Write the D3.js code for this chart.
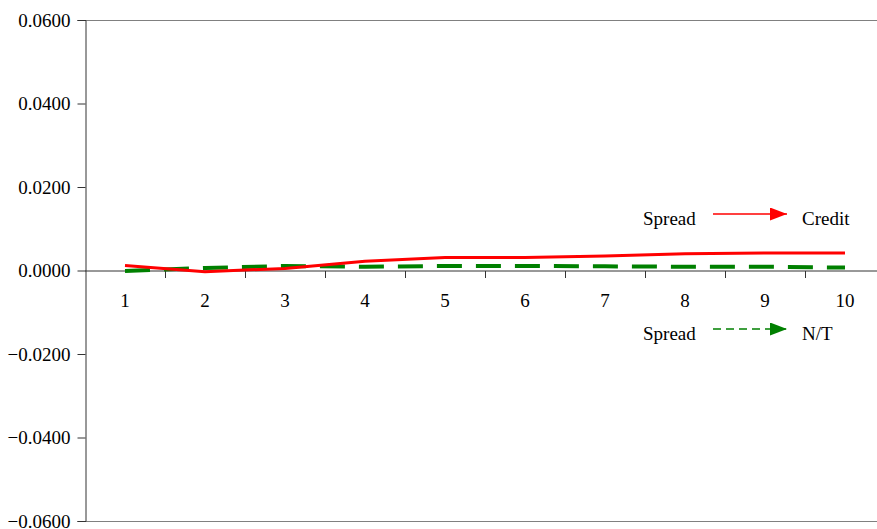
<!DOCTYPE html>
<html><head><meta charset="utf-8">
<script src="https://cdn.jsdelivr.net/npm/d3@7"></script>
<style>body{margin:0;background:#fff}svg text{font-family:"Liberation Serif","Times New Roman",serif}</style>
</head><body>
<svg id="c" width="877" height="529"></svg>
<script>
const categories = [1,2,3,4,5,6,7,8,9,10];
const credit = [0.0012,-0.0003,0.0005,0.0022,0.0031,0.0031,0.0035,0.0040,0.0042,0.0042];
const nt = [-0.0001,0.0006,0.0011,0.0009,0.0011,0.0011,0.0010,0.0009,0.0009,0.0007];
const yTicks = [-0.06,-0.04,-0.02,0,0.02,0.04,0.06];

const svg = d3.select("#c");
const L = 85, R = 885, T = 20, B = 521;
const FS = 19;
const x = d3.scaleBand().domain(categories).range([L,R]);
const y = d3.scaleLinear().domain([-0.06,0.06]).range([B,T]);
const cx = d => x(d) + x.bandwidth()/2;

// frame top/bottom
svg.append("line").attr("x1",L).attr("x2",877).attr("y1",T+0.5).attr("y2",T+0.5).attr("stroke","#808080");
svg.append("line").attr("x1",L).attr("x2",877).attr("y1",B+0.5).attr("y2",B+0.5).attr("stroke","#808080");

// y axis
const ya = svg.append("g").attr("transform",`translate(${L+0.5},0)`)
  .call(d3.axisLeft(y).tickValues(yTicks).tickFormat(d3.format(".4f")).tickSize(8).tickPadding(7));
ya.attr("font-family",null).attr("font-size",null);
ya.select(".domain").attr("stroke","#333");
ya.selectAll(".tick line").attr("stroke","#333");
ya.selectAll("text").attr("font-size",FS).attr("fill","#000");

// x axis at zero
const xa = svg.append("g").attr("transform",`translate(0,${y(0)+0.5})`)
  .call(d3.axisBottom(x).tickSize(0).tickPadding(0));
xa.attr("font-family",null).attr("font-size",null);
xa.select(".domain").remove();
xa.append("line").attr("x1",L).attr("x2",877).attr("stroke","#333");
xa.selectAll(".tick text").attr("font-size",FS).attr("fill","#000").attr("dy",null).attr("y",36);
const bounds = categories.slice(1).map(c => x(c));
xa.selectAll(".sep").data(bounds).enter().append("line")
  .attr("x1",d=>d+0.5).attr("x2",d=>d+0.5).attr("y1",0).attr("y2",7).attr("stroke","#333");

// lines
const line = arr => d3.line().x((d,i)=>cx(categories[i])).y(d=>y(d))(arr);
svg.append("path").attr("d",line(nt)).attr("fill","none").attr("stroke","#008000")
  .attr("stroke-width",4).attr("stroke-dasharray","25,14");
svg.append("path").attr("d",line(credit)).attr("fill","none").attr("stroke","#ff0000")
  .attr("stroke-width",3).attr("stroke-linejoin","round");

// annotations
const defs = svg.append("defs");
function marker(id,color){
  defs.append("marker").attr("id",id).attr("viewBox","0 0 17 13").attr("refX",17).attr("refY",6.5)
    .attr("markerWidth",17).attr("markerHeight",13).attr("markerUnits","userSpaceOnUse").attr("orient","auto")
    .append("path").attr("d","M0,0L17,6.5L0,13Z").attr("fill",color);
}
marker("ar","#ff0000"); marker("ag","#008000");
function annot(yy,color,dash,mk,label){
  svg.append("text").attr("x",643).attr("y",yy+11).attr("font-size",FS).text("Spread");
  svg.append("line").attr("x1",713).attr("x2",787).attr("y1",yy).attr("y2",yy)
    .attr("stroke",color).attr("stroke-width",1.5).attr("stroke-dasharray",dash).attr("marker-end",`url(#${mk})`);
  svg.append("text").attr("x",802).attr("y",yy+11).attr("font-size",FS).text(label);
}
annot(214,"#ff0000",null,"ar","Credit");
annot(329,"#008000","8,5","ag","N/T");
</script>
</body></html>
